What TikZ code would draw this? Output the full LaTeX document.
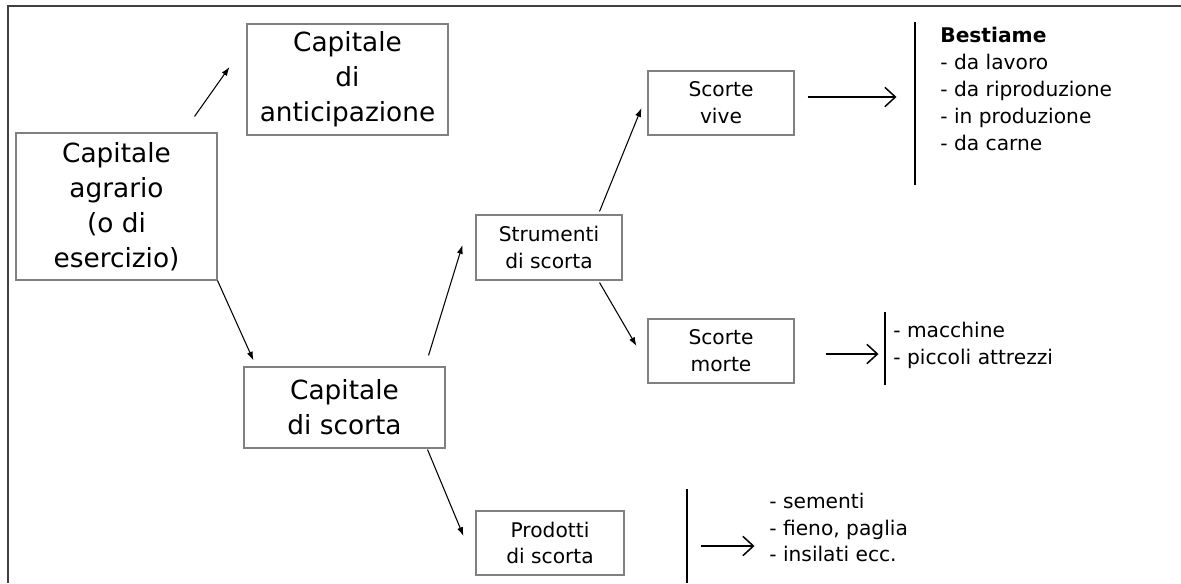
\documentclass[tikz,border=0pt]{standalone}
\usepackage{fontspec}
\setmainfont{DejaVu Sans}
\usetikzlibrary{arrows.meta,calc}

\tikzset{
  bigbox/.style={draw=black!50, line width=0.6pt, align=center, inner sep=0pt,
    minimum width=4.02cm, font=\fontsize{15}{20}\selectfont},
  smallbox/.style={draw=black!50, line width=0.6pt, align=center, inner sep=0pt,
    minimum width=2.92cm, minimum height=1.28cm, font=\fontsize{11.5}{15.3}\selectfont},
  elenco/.style={align=left, anchor=west, inner sep=0pt, font=\fontsize{11.5}{15.3}\selectfont},
  freccia/.style={line width=0.6pt, -{Latex[length=5pt,width=3.5pt]}},
  freccialunga/.style={line width=0.85pt, -{Straight Barb[length=6pt,width=11pt]}},
  sbarra/.style={line width=1.1pt},
}

\begin{document}
\begin{tikzpicture}[x=0.02cm, y=-0.02cm]
    \useasboundingbox (0,0) rectangle (1181,583);
    \draw[line width=1.1pt, black!75] (8,583) -- (8,6) -- (1181,6);

    \node[bigbox, minimum height=2.22cm] (anticipazione) at (347.5,79.5) {Capitale\\di\\anticipazione};
    \node[bigbox, minimum height=2.94cm] (agrario) at (116.5,206.5) {Capitale\\agrario\\(o di\\esercizio)};
    \node[bigbox, minimum height=1.62cm] (scorta) at (344.5,407.5) {Capitale\\di scorta};

    \node[smallbox, minimum height=1.3cm] (strumenti) at (549,247.5) {Strumenti\\di scorta};
    \node[smallbox] (vive) at (721,103) {Scorte\\vive};
    \node[smallbox] (morte) at (721,351) {Scorte\\morte};
    \node[smallbox, minimum width=2.96cm] (prodotti) at (550,543) {Prodotti\\di scorta};

    \node[elenco] (bestiame) at (940,89) {\textbf{Bestiame}\\- da lavoro\\- da riproduzione\\- in produzione\\- da carne};
    \node[elenco] (attrezzi) at (893,345.5) {- macchine\\- piccoli attrezzi};
    \node[elenco] (foraggi) at (769,527.5) {- sementi\\- fieno, paglia\\- insilati ecc.};

    \draw[freccia] ($(agrario.north east)+(-23,-16)$) -- ($(anticipazione.west)+(-17,-12.5)$);
    \draw[freccia] (agrario.south east) -- ($(scorta.north west)+(10,-6)$);
    \draw[freccia] ($(scorta.north east)+(-17,-11)$) -- ($(strumenti.west)+(-13,-2.5)$);
    \draw[freccia] ($(scorta.south east)+(-18,1)$) -- ($(prodotti.west)+(-12,-7)$);
    \draw[freccia] ($(strumenti.north east)+(-23,-3)$) -- ($(vive.west)+(-6,5)$);
    \draw[freccia] ($(strumenti.south east)+(-23,2)$) -- ($(morte.west)+(-11,-5)$);

    \draw[freccialunga] ($(vive.east)+(13,-6)$) -- ++(89,0);
    \draw[freccialunga] ($(morte.east)+(31,3)$) -- ++(53,0);
    \draw[freccialunga] ($(prodotti.east)+(76,3)$) -- ++(54,0);

    \draw[sbarra] (915,22) -- (915,185);
    \draw[sbarra] (885,312) -- (885,385);
    \draw[sbarra] (687,489) -- (687,583);
\end{tikzpicture}
\end{document}
